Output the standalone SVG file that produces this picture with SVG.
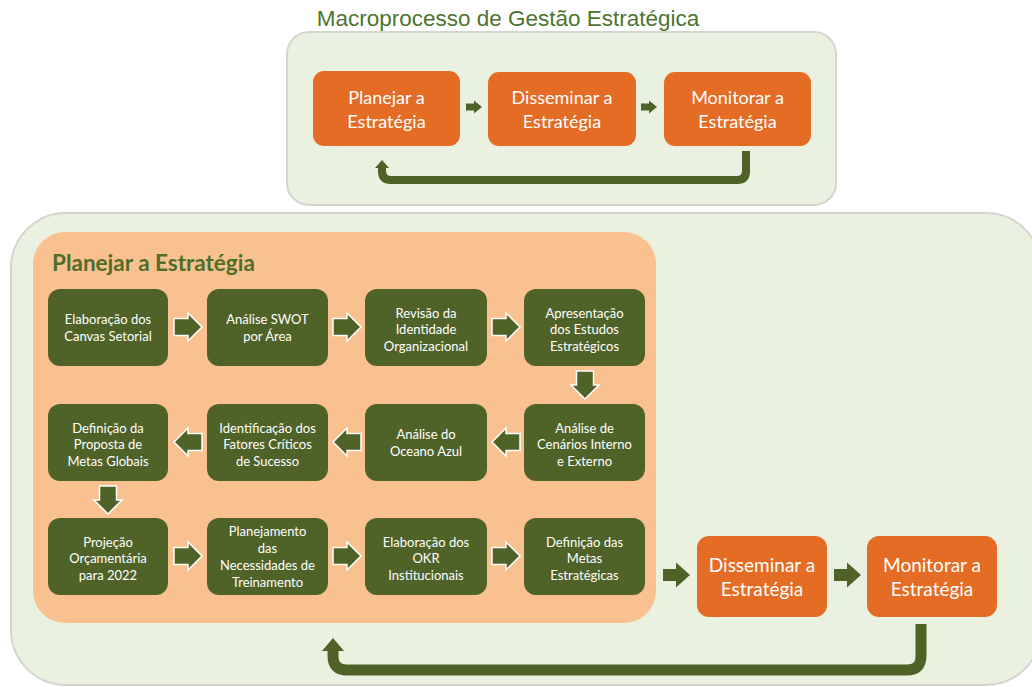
<svg xmlns="http://www.w3.org/2000/svg" xmlns:xlink="http://www.w3.org/1999/xlink" width="1032" height="687" viewBox="0 0 1032 687">
  <style>
    .frame { fill: #EAF1E0; stroke: #D3D6CF; stroke-width: 2; }
    .panel { fill: #F9C18F; }
    .orange { fill: #E46C24; }
    .step { fill: #4F6228; }
    .wt { fill: #FFFFFF; text-anchor: middle; font-family: Lato, "Open Sans", "Liberation Sans", sans-serif; }
    .t13 { font-size: 13px; }
    .t18 { font-size: 18px; }
    .t19 { font-size: 19px; }
    .title { fill: #4E7430; font-family: "Liberation Sans", Arial, sans-serif; font-size: 22.5px; text-anchor: middle; }
    .ptitle { fill: #4F6E2A; font-family: Lato, "Open Sans", sans-serif; font-weight: 700; font-size: 22.5px; }
    .blk { fill: #4F6228; stroke: #FFFFFF; stroke-width: 1.5; stroke-linejoin: miter; }
    .solid { fill: #4F6228; }
    .loop { fill: none; stroke: #4F6228; stroke-linejoin: round; }
  </style>
  <defs>
    <!-- block arrow pointing right, origin at the tail centre -->
    <path id="barrow" d="M0,-8.5 H14 V-14 L28,0 L14,14 V8.5 H0 Z"/>
    <path id="sarrow" d="M0,-6 H13 V-12.5 L27,0 L13,12.5 V6 H0 Z"/>
    <path id="tarrow" d="M0,-3.5 H8 V-6.5 L16,0 L8,6.5 V3.5 H0 Z"/>
  </defs>

  <!-- upper overview -->
  <text class="title" x="508" y="26">Macroprocesso de Gestão Estratégica</text>
  <rect class="frame" x="287" y="32" width="549" height="173" rx="22"/>

  <g id="top-planejar">
    <rect class="orange" x="313" y="71" width="147" height="75" rx="11"/>
    <text class="wt t18" x="386.5" y="104">Planejar a</text>
    <text class="wt t18" x="386.5" y="128">Estratégia</text>
  </g>
  <g id="top-disseminar">
    <rect class="orange" x="488" y="72" width="148" height="74" rx="11"/>
    <text class="wt t18" x="562" y="104">Disseminar a</text>
    <text class="wt t18" x="562" y="128">Estratégia</text>
  </g>
  <g id="top-monitorar">
    <rect class="orange" x="664" y="72" width="147" height="74" rx="11"/>
    <text class="wt t18" x="737.5" y="104">Monitorar a</text>
    <text class="wt t18" x="737.5" y="128">Estratégia</text>
  </g>

  <!-- detailed view -->
  <rect class="frame" x="11" y="213" width="1030" height="472" rx="55"/>
  <rect class="panel" x="33" y="232" width="623" height="391" rx="32"/>
  <text class="ptitle" x="52" y="271">Planejar a Estratégia</text>

  <g id="s1">
    <rect class="step" x="48" y="289" width="120" height="77" rx="12"/>
    <text class="wt t13" x="108" y="324">Elaboração dos</text>
    <text class="wt t13" x="108" y="341">Canvas Setorial</text>
  </g>
  <g id="s2">
    <rect class="step" x="207" y="289" width="121" height="77" rx="12"/>
    <text class="wt t13" x="267.5" y="324">Análise SWOT</text>
    <text class="wt t13" x="267.5" y="341">por Área</text>
  </g>
  <g id="s3">
    <rect class="step" x="365" y="289" width="122" height="77" rx="12"/>
    <text class="wt t13" x="426" y="318">Revisão da</text>
    <text class="wt t13" x="426" y="334">Identidade</text>
    <text class="wt t13" x="426" y="351">Organizacional</text>
  </g>
  <g id="s4">
    <rect class="step" x="524" y="289" width="121" height="77" rx="12"/>
    <text class="wt t13" x="584.5" y="318">Apresentação</text>
    <text class="wt t13" x="584.5" y="334">dos Estudos</text>
    <text class="wt t13" x="584.5" y="351">Estratégicos</text>
  </g>
  <g id="s5">
    <rect class="step" x="524" y="404" width="121" height="77" rx="12"/>
    <text class="wt t13" x="584.5" y="433">Análise de</text>
    <text class="wt t13" x="584.5" y="449">Cenários Interno</text>
    <text class="wt t13" x="584.5" y="466">e Externo</text>
  </g>
  <g id="s6">
    <rect class="step" x="365" y="404" width="122" height="77" rx="12"/>
    <text class="wt t13" x="426" y="439">Análise do</text>
    <text class="wt t13" x="426" y="456">Oceano Azul</text>
  </g>
  <g id="s7">
    <rect class="step" x="207" y="404" width="121" height="77" rx="12"/>
    <text class="wt t13" x="267.5" y="433">Identificação dos</text>
    <text class="wt t13" x="267.5" y="449">Fatores Críticos</text>
    <text class="wt t13" x="267.5" y="466">de Sucesso</text>
  </g>
  <g id="s8">
    <rect class="step" x="48" y="404" width="120" height="77" rx="12"/>
    <text class="wt t13" x="108" y="433">Definição da</text>
    <text class="wt t13" x="108" y="449">Proposta de</text>
    <text class="wt t13" x="108" y="466">Metas Globais</text>
  </g>
  <g id="s9">
    <rect class="step" x="48" y="518" width="120" height="77" rx="12"/>
    <text class="wt t13" x="108" y="547">Projeção</text>
    <text class="wt t13" x="108" y="563">Orçamentária</text>
    <text class="wt t13" x="108" y="580">para 2022</text>
  </g>
  <g id="s10">
    <rect class="step" x="207" y="518" width="121" height="77" rx="12"/>
    <text class="wt t13" x="267.5" y="536">Planejamento</text>
    <text class="wt t13" x="267.5" y="553">das</text>
    <text class="wt t13" x="267.5" y="570">Necessidades de</text>
    <text class="wt t13" x="267.5" y="587">Treinamento</text>
  </g>
  <g id="s11">
    <rect class="step" x="365" y="518" width="122" height="77" rx="12"/>
    <text class="wt t13" x="426" y="547">Elaboração dos</text>
    <text class="wt t13" x="426" y="563">OKR</text>
    <text class="wt t13" x="426" y="580">Institucionais</text>
  </g>
  <g id="s12">
    <rect class="step" x="524" y="518" width="121" height="77" rx="12"/>
    <text class="wt t13" x="584.5" y="547">Definição das</text>
    <text class="wt t13" x="584.5" y="563">Metas</text>
    <text class="wt t13" x="584.5" y="580">Estratégicas</text>
  </g>

  <g id="disseminar">
    <rect class="orange" x="697" y="536" width="130" height="81" rx="12"/>
    <text class="wt t19" x="762" y="572">Disseminar a</text>
    <text class="wt t19" x="762" y="596">Estratégia</text>
  </g>
  <g id="monitorar">
    <rect class="orange" x="867" y="536" width="130" height="81" rx="12"/>
    <text class="wt t19" x="932" y="572">Monitorar a</text>
    <text class="wt t19" x="932" y="596">Estratégia</text>
  </g>

  <g id="connectors">
    <!-- upper cycle -->
    <use href="#tarrow" x="466" y="107" class="solid"/>
    <use href="#tarrow" x="641" y="107" class="solid"/>
    <path class="loop" stroke-width="8" d="M746,151 V171 Q746,180 737,180 H391 Q382,180 382,171 V166"/>
    <polygon class="solid" points="382,160 389,168 375,168"/>

    <!-- row 1, left to right -->
    <use href="#barrow" class="blk" transform="translate(174,327)"/>
    <use href="#barrow" class="blk" transform="translate(333,327)"/>
    <use href="#barrow" class="blk" transform="translate(492,327)"/>
    <!-- down to row 2 -->
    <use href="#barrow" class="blk" transform="translate(585,371) rotate(90)"/>
    <!-- row 2, right to left -->
    <use href="#barrow" class="blk" transform="translate(520,442) rotate(180)"/>
    <use href="#barrow" class="blk" transform="translate(361,442) rotate(180)"/>
    <use href="#barrow" class="blk" transform="translate(202,442) rotate(180)"/>
    <!-- down to row 3 -->
    <use href="#barrow" class="blk" transform="translate(108,486) rotate(90)"/>
    <!-- row 3, left to right -->
    <use href="#barrow" class="blk" transform="translate(174,556)"/>
    <use href="#barrow" class="blk" transform="translate(333,556)"/>
    <use href="#barrow" class="blk" transform="translate(492,556)"/>

    <!-- towards dissemination and monitoring -->
    <use href="#sarrow" class="solid" transform="translate(663,575)"/>
    <use href="#sarrow" class="solid" transform="translate(834,575)"/>

    <!-- lower cycle -->
    <path class="loop" stroke-width="11" d="M921,624 V656 Q921,670 907,670 H347 Q333,670 333,656 V648"/>
    <polygon class="solid" points="333,638 344,651 322,651"/>
  </g>
</svg>
